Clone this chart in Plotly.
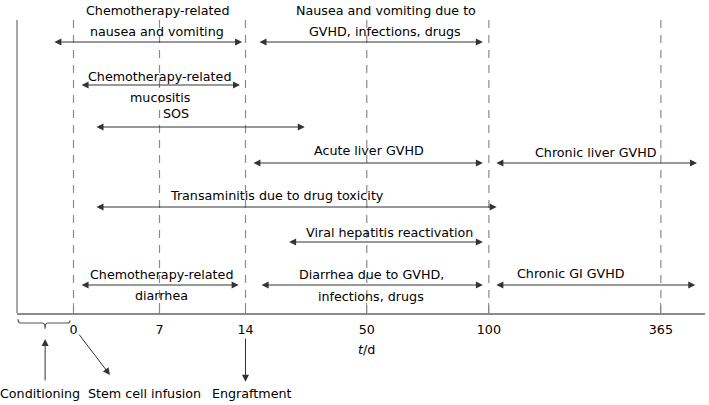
import plotly.graph_objects as go

# x axis positions (one unit = spacing between day 0 and day 7 on the drawing)
tick_pos = [0, 1, 2, 3.41, 4.83, 6.83]
tick_text = ['0', '7', '14', '50', '100', '365']

# Each bar: start, end (axis position), lane (distance from top)
arrow_start = [-0.24, 2.145, 0.076, 0.25, 2.075, 4.90, 0.25, 2.49, 0.076, 2.17, 4.90]
arrow_end = [1.96, 4.76, 1.936, 2.69, 4.76, 7.25, 4.92, 4.76, 1.92, 4.76, 7.23]
arrow_lane = [42, 42, 85, 127, 163, 163, 207, 242, 285, 285, 285]

# Text lines: text, centre position, lane
label_text = [
    'Chemotherapy-related', 'nausea and vomiting',
    'Nausea and vomiting due to', 'GVHD, infections, drugs',
    'Chemotherapy-related', 'mucositis', 'SOS',
    'Acute liver GVHD', 'Chronic liver GVHD',
    'Transaminitis due to drug toxicity',
    'Viral hepatitis reactivation',
    'Chemotherapy-related', 'diarrhea',
    'Diarrhea due to GVHD,', 'infections, drugs',
    'Chronic GI GVHD',
]
label_pos = [0.98, 0.97, 3.63, 3.62, 1.0, 1.0, 1.19, 3.44, 6.07,
             2.37, 3.67, 1.02, 1.02, 3.46, 3.46, 5.79]
label_lane = [10, 31, 10, 31, 76, 97, 113, 150, 152, 195, 232, 274, 295, 274, 296, 273]

# Events under the time axis
event_text = ['Conditioning', 'Stem cell infusion', 'Engraftment']
event_pos = [-0.39, 0.83, 2.076]

font_family = 'DejaVu Sans'
font_size = 12.7
line_grey = '#8a8a8a'
arrow_col = '#333333'

fig = go.Figure()
# invisible trace so the axes exist
fig.add_trace(go.Scatter(x=tick_pos, y=[313] * len(tick_pos), mode='markers',
                         marker=dict(opacity=0), hoverinfo='skip', showlegend=False))

# Dashed vertical guides
for p in tick_pos:
    fig.add_shape(type='line', xref='x', yref='y', x0=p, x1=p, y0=20, y1=313,
                  line=dict(color=line_grey, width=1.2, dash='8px,7px'), layer='below')

# Left axis line
fig.add_shape(type='line', xref='x domain', yref='y', x0=0, x1=0, y0=20, y1=313,
              line=dict(color=line_grey, width=1.5))

# Double headed arrows
for s, e, lane in zip(arrow_start, arrow_end, arrow_lane):
    fig.add_annotation(x=e, y=lane, ax=s, ay=lane, xref='x', yref='y', axref='x', ayref='y',
                       text='', showarrow=True, arrowside='end+start',
                       arrowhead=2, startarrowhead=2, arrowsize=1.4, startarrowsize=1.4,
                       arrowwidth=1, arrowcolor=arrow_col, standoff=0, startstandoff=0)

for t, p, lane in zip(label_text, label_pos, label_lane):
    fig.add_annotation(x=p, y=lane, xref='x', yref='y', text=t, showarrow=False,
                       xanchor='center', yanchor='middle',
                       font=dict(family=font_family, size=font_size, color='black'))

# Brace for conditioning (below the axis, in y domain units)
b0, b1, bt = -0.645, -0.04, -0.33
ya, yb, yc = -0.02, -0.032, -0.05
d = 0.03
fig.add_shape(type='path', xref='x', yref='y domain',
              path=(f'M {b0},{ya} Q {b0},{yb} {b0 + d},{yb} L {bt - d},{yb} '
                    f'Q {bt},{yb} {bt},{yc} Q {bt},{yb} {bt + d},{yb} L {b1 - d},{yb} '
                    f'Q {b1},{yb} {b1},{ya - 0.004}'),
              line=dict(color='#555555', width=1.2))

# Event arrows
fig.add_annotation(x=-0.33, y=-0.083, ax=-0.33, ay=-0.22, xref='x', yref='y domain',
                   axref='x', ayref='y domain', text='', showarrow=True, arrowhead=2,
                   arrowsize=1.4, arrowwidth=1, arrowcolor=arrow_col, standoff=0)
fig.add_annotation(x=0.424, y=-0.198, ax=0.052, ay=-0.064, xref='x', yref='y domain',
                   axref='x', ayref='y domain', text='', showarrow=True, arrowhead=2,
                   arrowsize=1.4, arrowwidth=1, arrowcolor=arrow_col, standoff=0)
fig.add_annotation(x=2.0, y=-0.22, ax=2.0, ay=-0.077, xref='x', yref='y domain',
                   axref='x', ayref='y domain', text='', showarrow=True, arrowhead=2,
                   arrowsize=1.4, arrowwidth=1, arrowcolor=arrow_col, standoff=0)

for t, p in zip(event_text, event_pos):
    fig.add_annotation(x=p, y=-0.256, xref='x', yref='y domain', text=t, showarrow=False,
                       xanchor='center', yanchor='middle',
                       font=dict(family=font_family, size=font_size, color='black'))

fig.add_annotation(x=3.41, y=-0.118, xref='x', yref='y domain', text='<i>t</i>/d',
                   showarrow=False, xanchor='center', yanchor='middle',
                   font=dict(family=font_family, size=font_size, color='black'))

fig.update_layout(
    width=709, height=405,
    margin=dict(l=17, r=4, t=0, b=92),
    plot_bgcolor='white', paper_bgcolor='white',
    showlegend=False,
    font=dict(family=font_family, size=font_size, color='black'),
)
fig.update_xaxes(
    range=[-0.657, 7.343],
    tickmode='array', tickvals=tick_pos, ticktext=tick_text,
    ticks='inside', ticklen=10, tickwidth=1, tickcolor=line_grey,
    showline=True, linecolor=line_grey, linewidth=1.5,
    showgrid=False, zeroline=False, ticklabelstandoff=4,
)
fig.update_yaxes(range=[313, 0], visible=False, showgrid=False, zeroline=False)

# page body has a default 8px margin; remove it so the figure fills the window
fig.write_html('out.html', config={'displayModeBar': False},
               post_script="document.body.style.margin='0px';")
